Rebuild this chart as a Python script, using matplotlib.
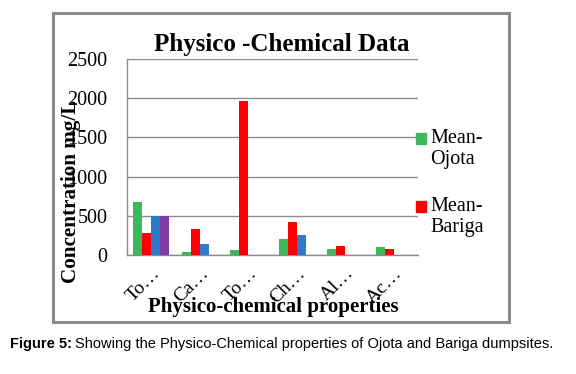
import numpy as np
import matplotlib.pyplot as plt
from matplotlib.patches import Rectangle
from matplotlib.transforms import ScaledTranslation

categories = ["To…", "Ca…", "To…", "Ch…", "Al…", "Ac…"]
mean_ojota = [680, 40, 65, 200, 80, 105]
mean_bariga = [285, 330, 1960, 420, 115, 80]
series3 = [500, 145, 0, 250, 0, 0]
series4 = [500, 0, 0, 0, 0, 0]
legend_labels = ["Mean-\nOjota", "Mean-\nBariga"]
yticks = [0, 500, 1000, 1500, 2000, 2500]

colors = ["#3DB85B", "#FF0000", "#2E7BCB", "#7D3CA8"]
serif = "Liberation Serif"

fig = plt.figure(figsize=(5.76, 3.74), dpi=100)
ax = fig.add_axes([0.2205, 0.3182, 0.5052, 0.524])

x = np.arange(len(categories))
w = 0.186
all_series = [mean_ojota, mean_bariga, series3, series4]
for i, vals in enumerate(all_series):
    ax.bar(x + (i - 1.5) * w, vals, w, color=colors[i], zorder=3)

ax.set_xlim(-0.5, len(categories) - 0.5)
ax.set_ylim(0, 2500)
ax.set_yticks(yticks)
ax.set_yticklabels([str(v) for v in yticks], fontsize=14.5, family=serif)
ax.set_xticks(x)
ax.set_xticklabels(categories, rotation=45, ha="right", va="top",
                   fontsize=14, family=serif, rotation_mode="anchor")
shift = ScaledTranslation(0.2, 0, fig.dpi_scale_trans)
for lbl in ax.get_xticklabels():
    lbl.set_transform(lbl.get_transform() + shift)
ax.tick_params(axis="y", length=0, pad=14)
ax.tick_params(axis="x", length=0, pad=7)
ax.grid(axis="y", color="#8C8C8C", lw=1, zorder=0)
for s in ["top", "right"]:
    ax.spines[s].set_visible(False)
for s in ["left", "bottom"]:
    ax.spines[s].set_color("#8C8C8C")
    ax.spines[s].set_linewidth(1)

fig.text(282 / 576, 1 - 45 / 374, "Physico -Chemical Data", ha="center", va="center",
         fontsize=18, fontweight="bold", family=serif)
fig.text(273 / 576, 1 - 307 / 374, "Physico-chemical properties", ha="center", va="center",
         fontsize=15, fontweight="bold", family=serif)
fig.text(71 / 576, 1 - 191 / 374, "Concentration mg/L", ha="center", va="center",
         rotation=90, fontsize=15.2, fontweight="bold", family=serif)

# legend drawn by hand: square beside the first line of each two-line label
for k, (lab, top) in enumerate(zip(legend_labels, [133, 201])):
    fig.patches.append(Rectangle((416 / 576, 1 - (top + 11) / 374), 10 / 576, 11 / 374,
                                 transform=fig.transFigure, color=colors[k]))
    fig.text(430 / 576, 1 - (top - 4) / 374, lab, ha="left", va="top",
             fontsize=14.5, family=serif, linespacing=1.15)

fig.patches.append(Rectangle((53 / 576, 1 - 322 / 374), 456 / 576, 309 / 374,
                             transform=fig.transFigure, fill=False,
                             edgecolor="#8C8C8C", lw=2.2))

# caption: bold prefix then normal text
r = fig.canvas.get_renderer()
t1 = fig.text(10 / 576, 1 - 344 / 374, "Figure 5:", fontsize=10.5, fontweight="bold",
              family="Liberation Sans", va="center")
bb = t1.get_window_extent(renderer=r)
fig.text((bb.x1 + 3) / 576, 1 - 344 / 374,
         "Showing the Physico-Chemical properties of Ojota and Bariga dumpsites.",
         fontsize=10.5, family="Liberation Sans", va="center")

fig.savefig("out.png", dpi=100)
